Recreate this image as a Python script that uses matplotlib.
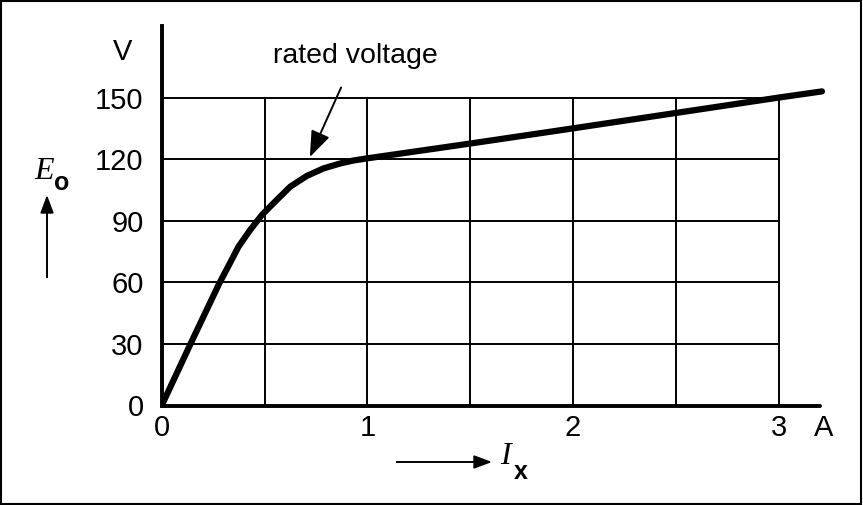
import matplotlib
matplotlib.use("Agg")
import matplotlib.pyplot as plt
from matplotlib.patches import Rectangle, FancyArrow

# no-load characteristic: field current I_x [A] vs voltage E_o [V]
ix = [0, 0.14, 0.28, 0.33, 0.373, 0.43, 0.487, 0.543, 0.625, 0.705, 0.787,
      0.868, 0.93, 1.0, 1.5, 2.0, 2.5, 3.0, 3.21]
eo = [0, 30, 59.5, 69, 77.3, 85.5, 92.8, 98.5, 106.6, 111.8, 115.5,
      117.9, 119.3, 120.4, 127.6, 135, 142.5, 150, 153]

xticks = [0, 1, 2, 3]
yticks = [0, 30, 60, 90, 120, 150]
xgrid = [0.5, 1, 1.5, 2, 2.5, 3]
ygrid = [30, 60, 90, 120, 150]

rated_x, rated_y = 0.72, 121   # where the "rated voltage" arrow points

plt.rcParams['font.family'] = ['Liberation Sans', 'DejaVu Sans']

W, H = 863, 505
fig = plt.figure(figsize=(W / 100, H / 100), dpi=100)

# axes placed so that x=0 -> 161.7 px, 1 A = 205.7 px, y=0 -> 405.5 px, 1 V = 2.053 px
x0px, xs = 161.7, 205.7
y0px, ys = 405.5, 2.053
xmax, ymax = 3.25, 185
ax = fig.add_axes([x0px / W, (H - y0px) / H, xmax * xs / W, ymax * ys / H])
ax.set_xlim(0, xmax)
ax.set_ylim(0, ymax)

# grid, only inside 0..3 A and 0..150 V
ax.vlines(xgrid, 0, 150, color='black', lw=1.4, zorder=1)
ax.hlines(ygrid, 0, 3, color='black', lw=1.4, zorder=1)

# curve
ax.plot(ix, eo, color='black', lw=4.5, solid_capstyle='round',
        solid_joinstyle='round', zorder=3)

# axes lines
for s in ['top', 'right']:
    ax.spines[s].set_visible(False)
ax.spines['left'].set_linewidth(2.8)
ax.spines['bottom'].set_linewidth(2.8)
ax.spines['left'].set_bounds(0, ymax)
ax.spines['bottom'].set_bounds(0, 3.2)
ax.spines['bottom'].set_capstyle('round')

ax.set_xticks(xticks)
ax.set_yticks(yticks)
ax.set_xticklabels([str(v) for v in xticks])
ax.set_yticklabels([str(v) for v in yticks])
ax.tick_params(length=0, labelsize=21)
ax.tick_params(axis='x', pad=6)
ax.tick_params(axis='y', pad=13)

# units
ax.text(3.22, -11, 'A', ha='center', va='center', fontsize=21)
ax.text(-0.19, 172, 'V', ha='center', va='center', fontsize=21)

# annotation
ax.annotate('rated voltage', xy=(rated_x, rated_y), xytext=(0.94, 170),
            ha='center', va='center', fontsize=20.5,
            arrowprops=dict(arrowstyle='-|>,head_length=0.8,head_width=0.3',
                            color='black', lw=1.4, shrinkA=12, shrinkB=0,
                            mutation_scale=20))

# axis labels with arrows
fig.text(44 / W, 1 - 171 / H, 'E', fontsize=23, family='Liberation Serif',
         style='italic', ha='center', va='center')
fig.text(62 / W, 1 - 183 / H, 'o', fontsize=18, weight='bold',
         ha='center', va='center')
fig.add_artist(plt.Line2D([47 / W, 47 / W], [1 - 277 / H, 1 - 210 / H],
                          color='black', lw=1.4))
fig.patches.append(FancyArrow(
    47 / W, 1 - 213 / H, 0, 16 / H, width=0, head_width=12 / W,
    head_length=16 / H, length_includes_head=True, color='black',
    transform=fig.transFigure))

fig.text(505 / W, 1 - 457 / H, 'I', fontsize=23, family='Liberation Serif',
         style='italic', ha='center', va='center')
fig.text(521 / W, 1 - 472 / H, 'x', fontsize=18, weight='bold',
         ha='center', va='center')
fig.add_artist(plt.Line2D([397 / W, 476 / W], [1 - 462 / H, 1 - 462 / H],
                          color='black', lw=1.4))
fig.patches.append(FancyArrow(
    474 / W, 1 - 462 / H, 16 / W, 0, width=0, head_width=12 / H,
    head_length=16 / W, length_includes_head=True, color='black',
    transform=fig.transFigure))

# frame round the picture
fig.patches.append(Rectangle((0.001, 0.002), 0.997, 0.996, transform=fig.transFigure,
                             fill=False, edgecolor='black', lw=1.5))

fig.savefig('out.png', dpi=100)
